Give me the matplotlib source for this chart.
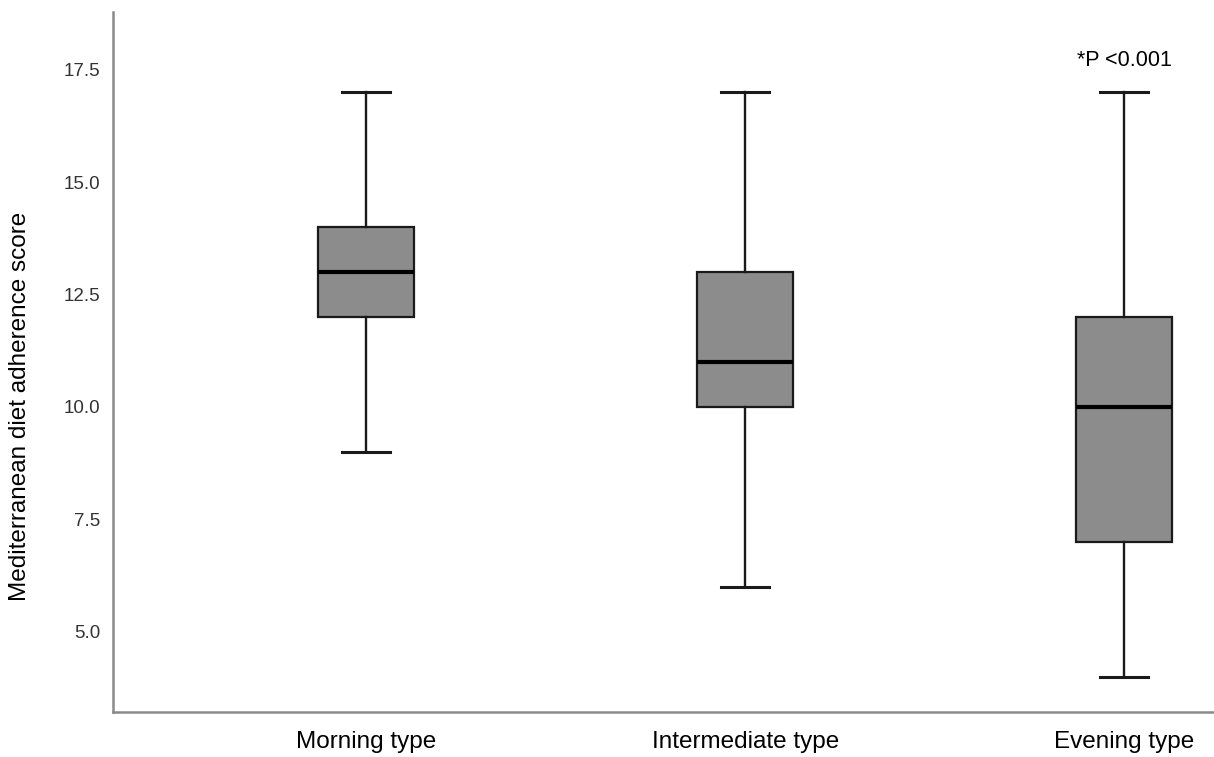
import matplotlib
matplotlib.use("Agg")
import matplotlib.pyplot as plt

categories = ["Morning type", "Intermediate type", "Evening type"]
whisker_low = [9, 6, 4]
q1 = [12, 10, 7]
median = [13, 11, 10]
q3 = [14, 13, 12]
whisker_high = [17, 17, 17]
ytick_values = [5.0, 7.5, 10.0, 12.5, 15.0, 17.5]
ytick_labels = ["5.0", "7.5", "10.0", "12.5", "15.0", "17.5"]
annotation = "*P <0.001"

plt.rcParams['font.family'] = ['Liberation Sans', 'DejaVu Sans']

fig = plt.figure(figsize=(12.14, 7.57), dpi=100)
ax = fig.add_axes([113/1214, 1 - 712/757, 1 - 113/1214, (712 - 12)/757])

stats = []
for i, name in enumerate(categories):
    stats.append(dict(label=name, whislo=whisker_low[i], q1=q1[i], med=median[i],
                      q3=q3[i], whishi=whisker_high[i], fliers=[]))

ax.bxp(stats, positions=range(len(categories)), widths=0.253, patch_artist=True,
       showfliers=False, capwidths=0.127,
       boxprops=dict(facecolor='#8c8c8c', edgecolor='#1a1a1a', linewidth=1.6),
       medianprops=dict(color='black', linewidth=3),
       whiskerprops=dict(color='#1a1a1a', linewidth=1.7),
       capprops=dict(color='#1a1a1a', linewidth=2.2))

ax.set_xlim(-0.668, 2.237)
ax.set_ylim(3.22, 18.78)
ax.set_yticks(ytick_values)
ax.set_yticklabels(ytick_labels, fontsize=13.5, color='#333333')
ax.set_xticks(range(len(categories)))
ax.set_xticklabels(categories, fontsize=17.5, color='black')
ax.tick_params(axis='both', length=0)
ax.tick_params(axis='y', pad=9)
ax.tick_params(axis='x', pad=14)

for s in ['top', 'right']:
    ax.spines[s].set_visible(False)
for s in ['left', 'bottom']:
    ax.spines[s].set_color('#8a8a8a')
    ax.spines[s].set_linewidth(1.8)

ax.set_ylabel("Mediterranean diet adherence score", fontsize=17.5)
ax.yaxis.set_label_coords(-0.0745, 0.437)
ax.text(2, whisker_high[2] + 0.7, annotation, ha='center', va='center', fontsize=15.5)

fig.savefig("out.png", dpi=100)
